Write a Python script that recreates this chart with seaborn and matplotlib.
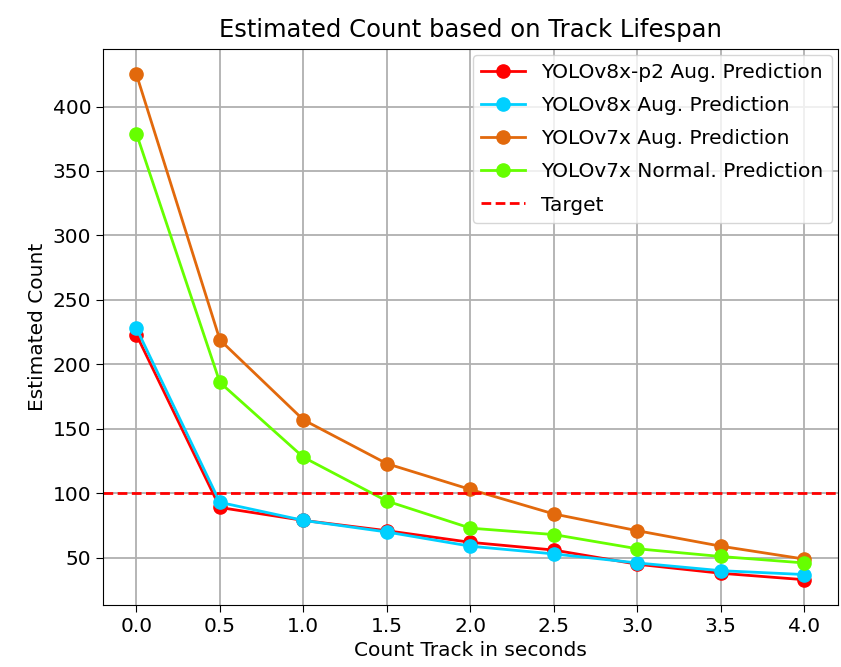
import matplotlib
matplotlib.use("Agg")
import matplotlib.pyplot as plt
import seaborn as sns
import pandas as pd

# values
seconds = [0.0, 0.5, 1.0, 1.5, 2.0, 2.5, 3.0, 3.5, 4.0]
yolov8x_p2_aug = [223, 89, 79, 71, 62, 56, 45, 38, 33]
yolov8x_aug = [228, 93, 79, 70, 59, 53, 46, 40, 37]
yolov7x_aug = [425, 219, 157, 123, 103, 84, 71, 59, 49]
yolov7x_normal = [379, 186, 128, 94, 73, 68, 57, 51, 46]
target = 100

series = [
    ("YOLOv8x-p2 Aug. Prediction", yolov8x_p2_aug, "#ff0000"),
    ("YOLOv8x Aug. Prediction", yolov8x_aug, "#00d0ff"),
    ("YOLOv7x Aug. Prediction", yolov7x_aug, "#e2690c"),
    ("YOLOv7x Normal. Prediction", yolov7x_normal, "#66ff00"),
]

plt.rcParams["font.family"] = ["DejaVu Sans"]
plt.rcParams["font.size"] = 14.5

fig = plt.figure(figsize=(8.41, 6.67), dpi=100)
ax = fig.add_axes([0.1225, 0.093, 0.8735, 0.8335])

for name, vals, col in series:
    df = pd.DataFrame({"sec": seconds, "count": vals})
    sns.lineplot(data=df, x="sec", y="count", ax=ax, color=col, marker="o",
                 markersize=9.5, linewidth=2, markeredgecolor=col,
                 markeredgewidth=1, label=name)

ax.axhline(target, color="red", linestyle="--", linewidth=2, label="Target",
           dashes=(3.5, 1.6))

ax.set_title("Estimated Count based on Track Lifespan", fontsize=17.5, pad=9)
ax.set_xlabel("Count Track in seconds", fontsize=14.5, labelpad=4)
ax.set_ylabel("Estimated Count", fontsize=14.5)
ax.set_xticks(seconds)
ax.tick_params(labelsize=14.5, length=5)
ax.grid(True, color="#b0b0b0", linewidth=1.3)
ax.set_axisbelow(True)
ax.legend(loc="upper right", fontsize=14.5, handlelength=2.2,
          borderaxespad=0.3, labelspacing=0.7)

fig.savefig("out.png", dpi=100)
